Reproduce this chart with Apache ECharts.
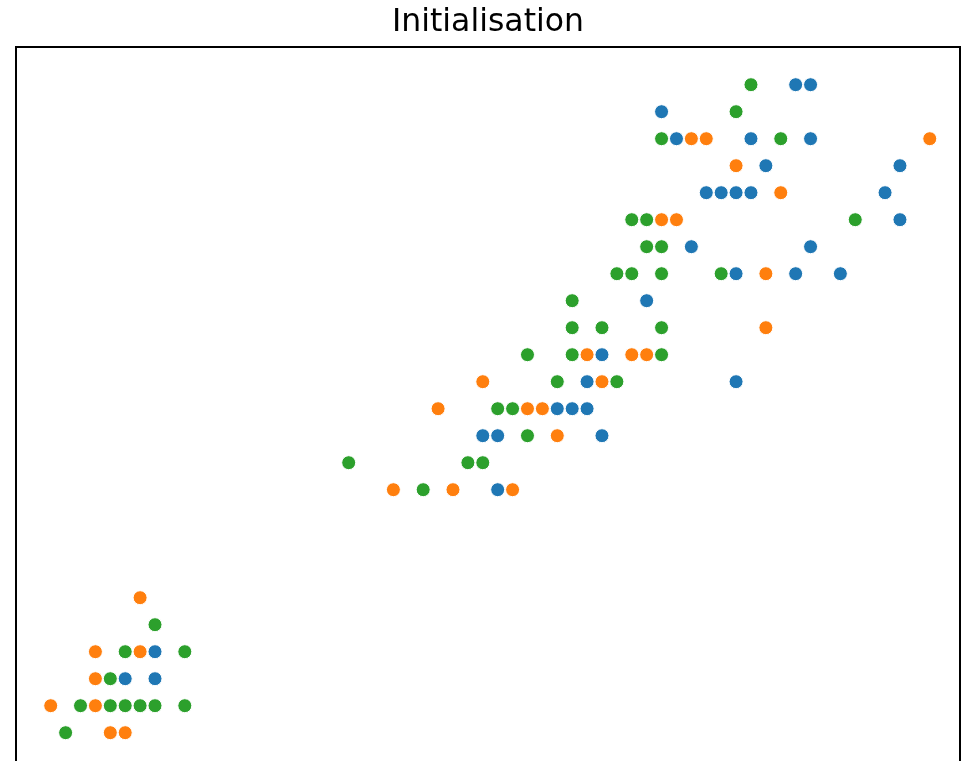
<!DOCTYPE html>
<html>
<head>
<meta charset="utf-8">
<script src="https://cdn.jsdelivr.net/npm/echarts@6/dist/echarts.min.js"></script>
<style>
html,body{margin:0;padding:0;overflow:hidden;background:#fff;}
#chart{width:967px;height:780px;}
</style>
</head>
<body>
<div id="chart"></div>
<script>
// Petal length (x) vs petal width (y), points grouped by initial cluster colour
const titleText = "Initialisation";

const cluster0 = [ // blue
  [1.7,0.4],[1.5,0.3],[1.7,0.3],
  [4.7,1.5],[4.6,1.4],[4.4,1.3],[4.5,1.3],[4.6,1.3],[3.9,1.2],[4.0,1.2],[4.7,1.2],[4.0,1.0],
  [6.0,2.5],[6.1,2.5],[5.1,2.4],[5.2,2.3],[5.7,2.3],[6.1,2.3],[5.8,2.2],[6.7,2.2],
  [5.4,2.1],[5.5,2.1],[5.6,2.1],[5.7,2.1],[6.6,2.1],[6.7,2.0],[5.3,1.9],[6.1,1.9],
  [5.6,1.8],[6.0,1.8],[6.3,1.8],[5.0,1.7],[5.6,1.4]
];

const cluster1 = [ // orange
  [1.6,0.6],[1.3,0.4],[1.6,0.4],[1.3,0.3],[1.0,0.2],[1.3,0.2],[1.4,0.1],[1.5,0.1],
  [4.6,1.5],[4.9,1.5],[5.0,1.5],[3.9,1.4],[4.7,1.4],[3.6,1.3],[4.2,1.3],[4.3,1.3],[4.4,1.2],
  [3.3,1.0],[3.7,1.0],[4.1,1.0],
  [5.3,2.3],[5.4,2.3],[6.9,2.3],[5.6,2.2],[5.9,2.1],[5.1,2.0],[5.2,2.0],[5.8,1.8],[5.8,1.6]
];

const cluster2 = [ // green
  [1.7,0.5],[1.5,0.4],[1.9,0.4],[1.4,0.3],[1.2,0.2],[1.4,0.2],[1.5,0.2],[1.6,0.2],[1.7,0.2],[1.9,0.2],[1.1,0.1],
  [4.5,1.7],[4.5,1.6],[4.7,1.6],[5.1,1.6],[4.2,1.5],[4.5,1.5],[5.1,1.5],[4.4,1.4],[4.8,1.4],
  [4.0,1.3],[4.1,1.3],[4.2,1.2],[3.0,1.1],[3.8,1.1],[3.9,1.1],[3.5,1.0],
  [5.7,2.5],[5.6,2.4],[5.1,2.3],[5.9,2.3],[4.9,2.0],[5.0,2.0],[6.4,2.0],[5.0,1.9],[5.1,1.9],
  [4.8,1.8],[4.9,1.8],[5.1,1.8],[5.5,1.8]
];

const xRange = [0.767, 7.103];
const yRange = [-0.04, 2.6396];
const colours = ["#1f77b4", "#ff7f0e", "#2ca02c"];

const chart = echarts.init(document.getElementById('chart'), null, {renderer: 'canvas'});
const hiddenAxis = (r) => ({
  type: 'value', min: r[0], max: r[1],
  axisLine: {show: false}, axisTick: {show: false}, axisLabel: {show: false}, splitLine: {show: false}
});
function series(data, colour) {
  return {
    type: 'scatter', data: data, symbol: 'circle', symbolSize: 14,
    itemStyle: {color: colour, borderColor: '#ffffff', borderWidth: 1, opacity: 1},
    emphasis: {disabled: true}, animation: false
  };
}
chart.setOption({
  animation: false,
  graphic: [{
    type: 'text', x: 488, y: 22.5,
    style: {text: titleText, align: 'center', verticalAlign: 'middle',
      font: 'normal 31.5px "DejaVu Sans"', fill: '#000'}
  }],
  grid: {left: 16, top: 47, width: 944, height: 723.5, show: true, borderColor: '#000', borderWidth: 2, backgroundColor: 'transparent'},
  xAxis: hiddenAxis(xRange),
  yAxis: hiddenAxis(yRange),
  series: [series(cluster0, colours[0]), series(cluster1, colours[1]), series(cluster2, colours[2])]
});
</script>
</body>
</html>
